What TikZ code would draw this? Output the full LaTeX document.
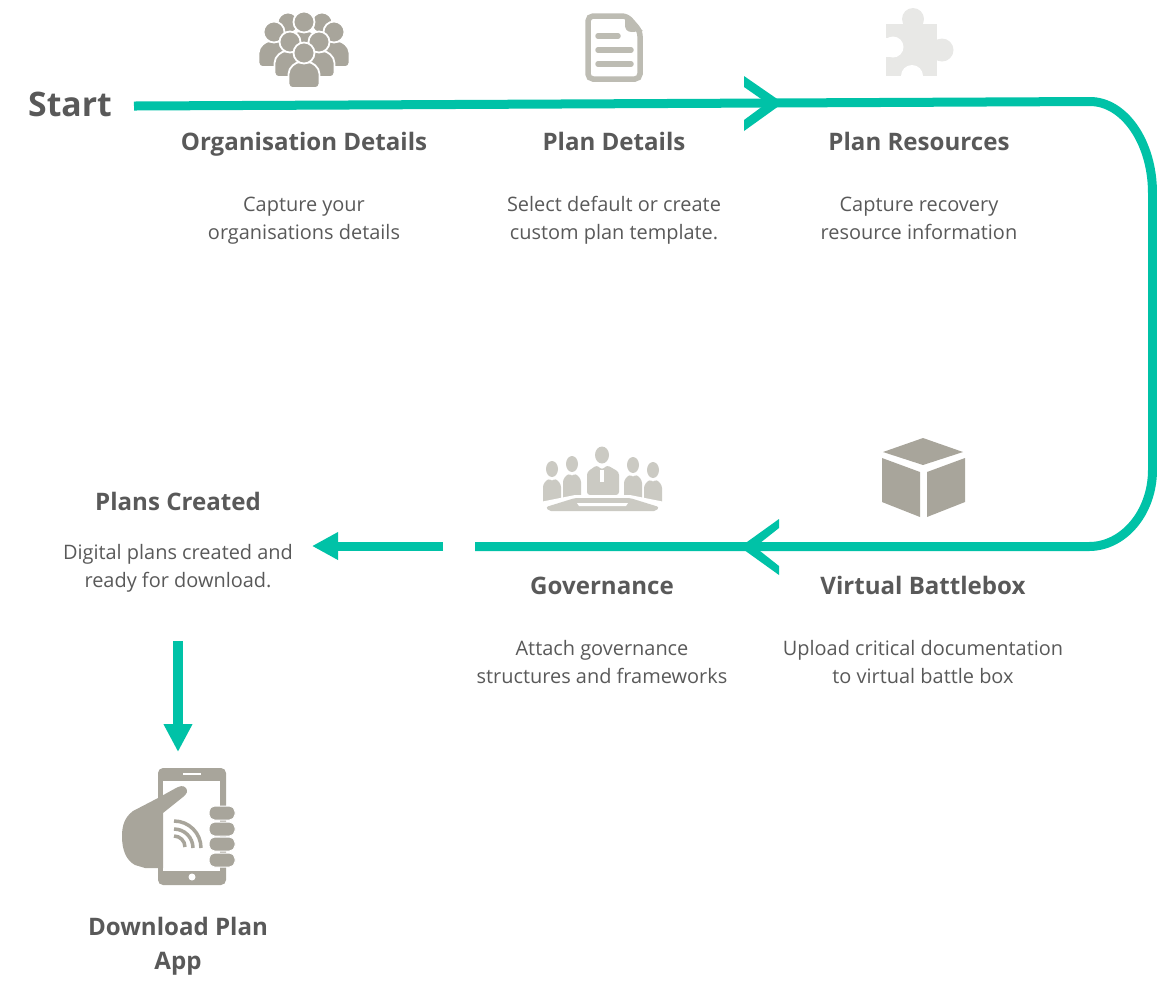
\documentclass[tikz,border=0pt]{standalone}
\usepackage{fontspec}
\setmainfont{Open Sans}
\usepackage{xcolor}
\usetikzlibrary{arrows.meta}
\definecolor{flowgreen}{RGB}{0,194,167}
\definecolor{textgrey}{RGB}{89,89,89}
\definecolor{icongrey}{RGB}{168,165,155}
\definecolor{docgrey}{RGB}{189,188,179}
\definecolor{meetgrey}{RGB}{203,202,195}
\definecolor{puzzlegrey}{RGB}{232,232,230}
\tikzset{
  headtext/.style={text=textgrey, font=\fontsize{6.85pt}{9.5pt}\selectfont\bfseries, align=center, inner sep=0pt, anchor=base},
  bodytext/.style={text=textgrey, font=\fontsize{5.67pt}{7.75pt}\selectfont, align=center, inner sep=0pt, anchor=base},
  flowline/.style={draw=flowgreen, line width=0.09cm},
  chevron/.style={fill=flowgreen},
  member/.pic={
    \fill[icongrey, draw=white, line width=0.018cm, rounded corners=0.04cm] (-15.5,34) -- (-15.5,24) .. controls (-15.5,13) and (-8,8) .. (0,8) .. controls (8,8) and (15.5,13) .. (15.5,24) -- (15.5,34) -- cycle;
    \fill[icongrey, draw=white, line width=0.018cm] (0,-1) circle (10.5);
  },
  seated/.pic={
    \fill[meetgrey] (0,0) ellipse (6 and 8);
    \fill[meetgrey, rounded corners=0.03cm] (-9,40) -- (-9,15) -- (-3,9) -- (0,13) -- (3,9) -- (9,15) -- (9,40) -- cycle;
  }
}

\begin{document}
\begin{tikzpicture}[x=0.01cm, y=-0.01cm]
    \useasboundingbox (0,0) rectangle (1157,996);

    % team icon
    \pic at (288,24) {member};
    \pic at (322,24) {member};
    \pic at (304,23) {member};
    \pic at (274,33) {member};
    \pic at (334,33) {member};
    \pic at (290,43) {member};
    \pic at (319,43) {member};
    \pic at (304,54) {member};

    % document icon
    \draw[docgrey, line width=0.055cm, rounded corners=0.05cm] (627,16) -- (588,16) -- (588,79) -- (640,79) -- (640,31) -- cycle;
    \fill[docgrey] (625,14) -- (643,31) -- (632,32) .. controls (627,32) and (625,29) .. (625,25) -- cycle;
    \draw[docgrey, line width=0.055cm, line cap=round] (598,36) -- (618,36) (598,50) -- (631,50) (598,64) -- (631,64);

    % puzzle icon
    \fill[puzzlegrey] (886,24) rectangle (937,76);
    \fill[puzzlegrey] (913,19) circle (11);
    \fill[puzzlegrey] (942,50) circle (11.5);
    \fill[white] (893,47) circle (10.5);
    \fill[white] (882,38) rectangle (890,57);
    \fill[white] (912,76) circle (11);

    % box icon
    \fill[icongrey] (923,438) -- (963,452) -- (923,465) -- (883,452) -- cycle;
    \fill[icongrey] (882,458) -- (920,472) -- (920,517) -- (882,502) -- cycle;
    \fill[icongrey] (965,458) -- (927,472) -- (927,517) -- (965,502) -- cycle;

    % meeting icon
    \pic at (552,469) {seated};
    \pic at (572,464) {seated};
    \pic at (633,465) {seated};
    \pic at (653,470) {seated};
    \fill[meetgrey] (602,455) ellipse (7 and 8.5);
    \fill[meetgrey, rounded corners=0.03cm] (587,495) -- (587,472) -- (597,465) -- (602,470) -- (607,465) -- (619,472) -- (619,495) -- cycle;
    \fill[white] (600,470) -- (604,470) -- (604,482) -- (600,482) -- cycle;
    \fill[white] (535,503) -- (575,495) -- (630,495) -- (670,503) -- (670,520) -- (535,520) -- cycle;
    \fill[meetgrey, rounded corners=0.02cm] (546,507) -- (575,498) -- (630,498) -- (659,507) -- (656,511) -- (549,511) -- cycle;
    \fill[white] (577,503) -- (628,503) -- (626,506) -- (579,506) -- cycle;

    % phone icon
    \fill[icongrey, rounded corners=0.05cm] (158,768) rectangle (226,885);
    \fill[white] (163,781) rectangle (220,871);
    \fill[white] (183,773) rectangle (201,775);
    \fill[white] (192,877) circle (3.5);
    \fill[icongrey] (186,788) .. controls (183,785) and (180,786) .. (176,788) -- (158,798) -- (133,811) .. controls (125,817) and (122,825) .. (122,836) .. controls (122,850) and (126,860) .. (135,865) -- (145,868) -- (163,868) -- (163,813) -- (183,797) .. controls (187,794) and (188,791) .. (186,788) -- cycle;
    \foreach \fy in {806,822,837,853}
        \fill[icongrey, draw=white, line width=0.01cm, rounded corners=0.055cm] (209,\fy) rectangle (235,\fy+14);
    \draw[icongrey, line width=0.035cm] (174,821) arc[start angle=-90, end angle=0, radius=27];
    \draw[icongrey, line width=0.035cm] (174,829) arc[start angle=-90, end angle=0, radius=19];
    \draw[icongrey, line width=0.035cm] (174,836) arc[start angle=-90, end angle=0, radius=11];

    % texts
    \node[text=textgrey, font=\fontsize{9.6pt}{12pt}\selectfont\bfseries, inner sep=0pt, anchor=base] (startlabel) at (70,116) {Start};
    \node[headtext] (orghead) at (304,150.5) {Organisation Details};
    \node[bodytext] (orgbody) at (304,239) {Capture your\\organisations details};
    \node[headtext] (planhead) at (614,150.5) {Plan Details};
    \node[bodytext] (planbody) at (614,239) {Select default or create\\custom plan template.};
    \node[headtext] (reshead) at (919,150.5) {Plan Resources};
    \node[bodytext] (resbody) at (919,239) {Capture recovery\\resource information};
    \node[headtext] (boxhead) at (923,594.5) {Virtual Battlebox};
    \node[bodytext] (boxbody) at (923,683) {Upload critical documentation\\to virtual battle box};
    \node[headtext] (govhead) at (602,594.5) {Governance};
    \node[bodytext] (govbody) at (602,683) {Attach governance\\structures and frameworks};
    \node[headtext] (madehead) at (178,510.5) {Plans Created};
    \node[bodytext] (madebody) at (178,587) {Digital plans created and\\ready for download.};
    \node[headtext] (apphead) at (178,969) {Download Plan\\App};

    % flow
    \coordinate (loopstart) at (134,106);
    \coordinate (looptop) at (1090,101.5);
    \coordinate (loopbottom) at (1089,546.5);
    \coordinate (loopend) at (475,546.5);
    \coordinate (madestart) at (443,546);
    \coordinate (madeend) at (312,546);
    \coordinate (appstart) at (178,641);
    \coordinate (append) at (178,752);

    \draw[flowline] (loopstart) -- (looptop) .. controls (1124,101.5) and (1152.5,142) .. (1152.5,193) -- (1152.5,470) .. controls (1152.5,512) and (1124,546.5) .. (loopbottom) -- (loopend);
    \fill[chevron] (744,76) -- (783,103) -- (744,131) -- (744,120) -- (767,103) -- (744,87) -- cycle;
    \fill[chevron] (779,519) -- (740,547) -- (779,575) -- (779,566) -- (755,547) -- (779,528) -- cycle;
    \draw[flowline, -{Triangle[length=0.26cm, width=0.26cm]}] (madestart) -- (madeend);
    \draw[flowline, -{Triangle[length=0.28cm, width=0.27cm]}] (appstart) -- (append);
\end{tikzpicture}
\end{document}
